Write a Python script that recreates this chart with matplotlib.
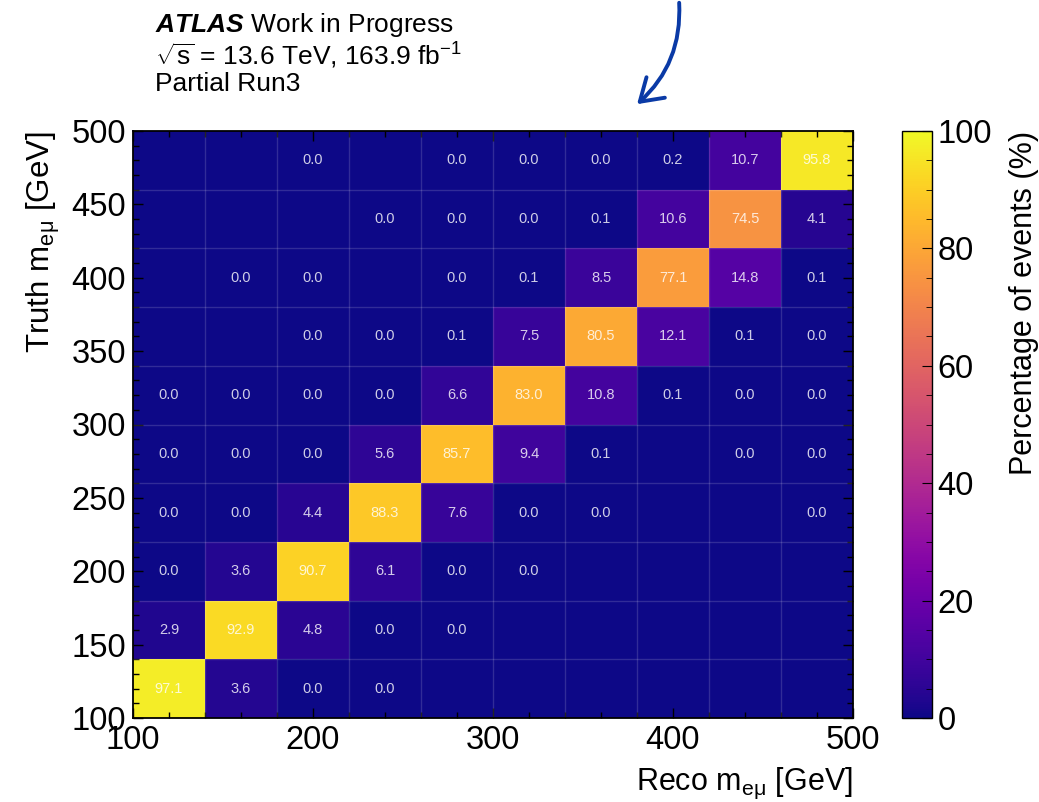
import numpy as np
import matplotlib
matplotlib.use("Agg")
import matplotlib.pyplot as plt
from matplotlib.ticker import MultipleLocator
from matplotlib.patches import FancyArrowPatch

plt.rcParams['font.family'] = ['Liberation Sans', 'DejaVu Sans']
plt.rcParams['mathtext.fontset'] = 'custom'
plt.rcParams['mathtext.rm'] = 'Liberation Sans'
plt.rcParams['mathtext.it'] = 'Liberation Sans:italic'
plt.rcParams['mathtext.bf'] = 'Liberation Sans:bold:italic'

# ---- data ----
reco_edges = [100, 140, 180, 220, 260, 300, 340, 380, 420, 460, 500]
truth_edges = [100, 140, 180, 220, 260, 300, 340, 380, 420, 460, 500]
nan = np.nan
# rows: truth bins from lowest (100-140) to highest (460-500); columns: reco bins
row_100 = [97.1, 3.6, 0.0, 0.0, nan, nan, nan, nan, nan, nan]
row_140 = [2.9, 92.9, 4.8, 0.0, 0.0, nan, nan, nan, nan, nan]
row_180 = [0.0, 3.6, 90.7, 6.1, 0.0, 0.0, nan, nan, nan, nan]
row_220 = [0.0, 0.0, 4.4, 88.3, 7.6, 0.0, 0.0, nan, nan, 0.0]
row_260 = [0.0, 0.0, 0.0, 5.6, 85.7, 9.4, 0.1, nan, 0.0, 0.0]
row_300 = [0.0, 0.0, 0.0, 0.0, 6.6, 83.0, 10.8, 0.1, 0.0, 0.0]
row_340 = [nan, nan, 0.0, 0.0, 0.1, 7.5, 80.5, 12.1, 0.1, 0.0]
row_380 = [nan, 0.0, 0.0, nan, 0.0, 0.1, 8.5, 77.1, 14.8, 0.1]
row_420 = [nan, nan, nan, 0.0, 0.0, 0.0, 0.1, 10.6, 74.5, 4.1]
row_460 = [nan, nan, 0.0, nan, 0.0, 0.0, 0.0, 0.2, 10.7, 95.8]
percent = np.array([row_100, row_140, row_180, row_220, row_260,
                    row_300, row_340, row_380, row_420, row_460])

W, H = 1039, 802
fig = plt.figure(figsize=(W/100, H/100), dpi=100)
ax = fig.add_axes([133/W, 1-718/H, (853-133)/W, (718-131)/H])
cax = fig.add_axes([902/W, 1-718/H, (932-902)/W, (718-131)/H])

cmap = plt.get_cmap('plasma').copy()
cmap.set_bad(cmap(0.0))
ax.set_facecolor(cmap(0.0))
mesh = ax.pcolormesh(reco_edges, truth_edges, np.ma.masked_invalid(percent),
                     cmap=cmap, vmin=0, vmax=100)

# faint cell borders
for e in reco_edges[1:-1]:
    ax.axvline(e, color='white', alpha=0.15, lw=1.0)
for e in truth_edges[1:-1]:
    ax.axhline(e, color='white', alpha=0.15, lw=1.0)

xc = 0.5*(np.array(reco_edges[:-1]) + np.array(reco_edges[1:]))
yc = 0.5*(np.array(truth_edges[:-1]) + np.array(truth_edges[1:]))
for i, y in enumerate(yc):
    for j, x in enumerate(xc):
        v = percent[i, j]
        if not np.isnan(v):
            ax.text(x, y, f"{v:.1f}", ha='center', va='center',
                    color='white', alpha=0.8, fontsize=10.5)

ax.set_xlim(100, 500)
ax.set_ylim(100, 500)
ax.xaxis.set_major_locator(MultipleLocator(100))
ax.xaxis.set_minor_locator(MultipleLocator(20))
ax.yaxis.set_major_locator(MultipleLocator(50))
ax.yaxis.set_minor_locator(MultipleLocator(10))
ax.tick_params(which='both', direction='in', top=True, right=True, labelsize=23.5, pad=5)
ax.tick_params(which='major', length=7, width=1)
ax.tick_params(which='minor', length=4, width=1)
for s in ax.spines.values():
    s.set_linewidth(1.3)

ax.set_xlabel(r'Reco m$_{\mathregular{eμ}}$ [GeV]', fontsize=22, loc='right', labelpad=7)
ax.set_ylabel(r'Truth m$_{\mathregular{eμ}}$ [GeV]', fontsize=22.5, loc='top', labelpad=7)

cb = fig.colorbar(mesh, cax=cax)
cb.set_ticks([0, 20, 40, 60, 80, 100])
cax.yaxis.set_minor_locator(MultipleLocator(5))
cax.tick_params(which='both', direction='in', labelsize=23.5, pad=4)
cax.tick_params(which='major', length=7)
cax.tick_params(which='minor', length=4)
cb.outline.set_linewidth(1.0)
cb.set_label('Percentage of events (%)', fontsize=22, loc='top', labelpad=12)

# ATLAS label (one multi-line text block)
atlas_text = ('$\\mathbf{ATLAS}$ Work in Progress\n'
              '$\\sqrt{\\mathregular{s}}$ = 13.6 TeV, 163.9 fb$^{-1}$\n'
              'Partial Run3')
fig.text(155/W, 1-11/H, atlas_text, fontsize=19, va='top', ha='left', linespacing=1.07)

# hand-drawn arrow
arrow = FancyArrowPatch((679/W, 1.0), (635/W, 1-106/H), transform=fig.transFigure,
                        connectionstyle='arc3,rad=-0.25', arrowstyle='->,head_length=7,head_width=4.5',
                        color='#0a3aa6', lw=2.8, mutation_scale=2.2)
fig.patches.append(arrow)

fig.savefig('out.png', dpi=100)
